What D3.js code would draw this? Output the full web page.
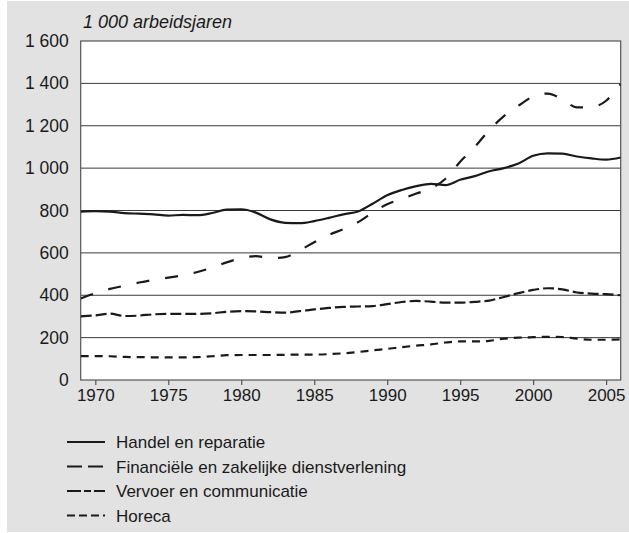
<!DOCTYPE html>
<html>
<head>
<meta charset="utf-8">
<script src="https://cdn.jsdelivr.net/npm/d3@7"></script>
<style>
  html, body { margin: 0; padding: 0; background: #ffffff; }
  svg { display: block; }
  text { font-family: "Liberation Sans", Arial, Helvetica, sans-serif; fill: #1a1a1a; }
</style>
</head>
<body>
<svg id="chart" width="629" height="533"></svg>
<script>
const years = d3.range(1969, 2007);
const handel = [795, 797, 795, 788, 785, 782, 776, 779, 778, 788, 804, 806, 790, 758, 742, 740, 750, 765, 782, 795, 832, 872, 897, 915, 926, 920, 945, 962, 985, 1000, 1022, 1058, 1070, 1068, 1055, 1046, 1040, 1050];
const financieel = [385, 410, 430, 445, 460, 473, 483, 495, 510, 530, 555, 575, 585, 575, 580, 612, 650, 685, 712, 745, 790, 830, 855, 880, 905, 950, 1030, 1100, 1180, 1245, 1295, 1338, 1352, 1325, 1287, 1288, 1318, 1397];
const vervoer = [300, 305, 313, 302, 304, 310, 312, 312, 312, 315, 322, 325, 324, 320, 318, 325, 333, 340, 345, 347, 349, 358, 368, 373, 370, 365, 365, 369, 375, 392, 410, 425, 433, 428, 413, 408, 405, 400];
const horeca = [113, 113, 112, 109, 108, 107, 107, 107, 108, 112, 117, 118, 118, 118, 119, 120, 120, 122, 126, 132, 140, 147, 155, 162, 168, 177, 182, 182, 185, 195, 200, 202, 204, 203, 195, 190, 190, 192];
const seriesNames = ["Handel en reparatie", "Financiële en zakelijke dienstverlening", "Vervoer en communicatie", "Horeca"];
const yTicks = [0, 200, 400, 600, 800, 1000, 1200, 1400, 1600];
const yTickLabels = ["0", "200", "400", "600", "800", "1 000", "1 200", "1 400", "1 600"];
const xTicks = [1970, 1975, 1980, 1985, 1990, 1995, 2000, 2005];
const unitLabel = "1 000 arbeidsjaren";

const seriesValues = [handel, financieel, vervoer, horeca];
const chartDash = [null, "13,16", "11,4", "8,6"];
const legendDash = [null, "15,6", "14,3,7,3", "8,4"];

const svg = d3.select("#chart");
svg.append("rect").attr("x", 7).attr("y", 1).attr("width", 622).attr("height", 531).attr("fill", "#e2e2e2");

const L = 80.7, R = 620.7, T = 41, B = 380;
const x = d3.scaleLinear().domain([1969, 2006]).range([L, R]);
const y = d3.scaleLinear().domain([0, 1600]).range([B, T]);

svg.append("rect").attr("x", L).attr("y", T).attr("width", R - L).attr("height", B - T).attr("fill", "#ffffff");

// gridlines
svg.append("g").selectAll("line").data(yTicks.filter(d => d > 0 && d < 1600)).join("line")
  .attr("x1", L).attr("x2", R).attr("y1", d => y(d)).attr("y2", d => y(d))
  .attr("stroke", "#3a3a3a").attr("stroke-width", 1);

// frame
svg.append("rect").attr("x", L).attr("y", T).attr("width", R - L).attr("height", B - T)
  .attr("fill", "none").attr("stroke", "#555").attr("stroke-width", 1.2);

// y axis labels
const yAxis = d3.axisLeft(y).tickValues(yTicks).tickSize(0).tickPadding(12)
  .tickFormat((d, i) => yTickLabels[i]);
const gy = svg.append("g").attr("transform", `translate(${L},0)`).call(yAxis);
gy.select(".domain").remove();
gy.selectAll("text").attr("font-size", 17.5).attr("fill", "#1a1a1a")
  .style("font-family", '"Liberation Sans", Arial, sans-serif');

// x axis
const xAxis = d3.axisBottom(x).tickValues(xTicks).tickSize(5).tickPadding(4).tickFormat(d3.format("d"));
const gx = svg.append("g").attr("transform", `translate(0,${B})`).call(xAxis);
gx.select(".domain").remove();
gx.selectAll("line").attr("stroke", "#555").attr("stroke-width", 1.2);
gx.selectAll("text").attr("font-size", 17).attr("fill", "#1a1a1a")
  .style("font-family", '"Liberation Sans", Arial, sans-serif');

// unit label
svg.append("text").attr("x", 83).attr("y", 28).attr("font-size", 18).attr("font-style", "italic").text(unitLabel);

// lines
const line = d3.line().x((d, i) => x(years[i])).y(d => y(d)).curve(d3.curveMonotoneX);
svg.append("clipPath").attr("id", "clip").append("rect")
  .attr("x", L).attr("y", T - 5).attr("width", R - L).attr("height", B - T + 5);
const gl = svg.append("g").attr("clip-path", "url(#clip)");
seriesValues.forEach((vals, k) => {
  gl.append("path").datum(vals).attr("d", line)
    .attr("fill", "none").attr("stroke", "#1a1a1a").attr("stroke-width", 2.2)
    .attr("stroke-dasharray", chartDash[k]);
});

// legend
const lg = svg.append("g");
seriesNames.forEach((name, k) => {
  const yy = 442 + k * 24.5;
  lg.append("line").attr("x1", 67).attr("x2", 105).attr("y1", yy).attr("y2", yy)
    .attr("stroke", "#1a1a1a").attr("stroke-width", 2.2).attr("stroke-dasharray", legendDash[k]);
  lg.append("text").attr("x", 116).attr("y", yy + 6).attr("font-size", 17).text(name);
});
</script>
</body>
</html>
